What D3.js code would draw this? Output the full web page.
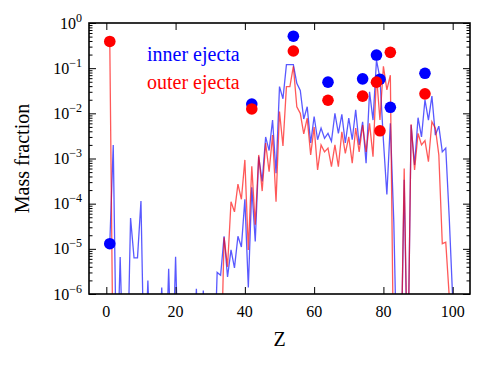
<!DOCTYPE html>
<html>
<head>
<meta charset="utf-8">
<script src="https://cdn.jsdelivr.net/npm/d3@7"></script>
<style>
  body { margin: 0; background: #fff; }
  text { font-family: "Liberation Serif", "DejaVu Serif", serif; }
</style>
</head>
<body>
<div id="chart-area"></div>
<script>
// atomic number of each line point
var zValues = [1,2,3,4,5,6,7,8,9,10,11,12,13,14,15,16,17,18,19,20,
  21,22,23,24,25,26,27,28,29,30,31,32,33,34,35,36,37,38,39,40,
  41,42,43,44,45,46,47,48,49,50,51,52,53,54,55,56,57,58,59,60,
  61,62,63,64,65,66,67,68,69,70,71,72,73,74,75,76,77,78,79,80,
  81,82,83,84,85,86,87,88,89,90,91,92,93,94,95,96,97,98,99,100];

// mass fractions (1e-8 = below the axis)
var innerLine = [1.3e-5,2e-3,1e-8,6.6e-6,1e-8,1e-8,4.8e-5,6.3e-6,6.3e-6,1.15e-4,
  1e-8,2e-6,1e-8,1e-8,1e-8,1.4e-6,1e-8,3.6e-6,1e-8,6.7e-6,
  1e-8,1e-8,1e-8,1e-8,1e-8,1.3e-6,1e-8,1.2e-6,1e-8,1e-8,
  1e-8,3.0e-6,2.6e-6,1.9e-5,2.4e-6,9.5e-6,3.8e-6,1.9e-5,1.1e-5,1.25e-4,
  1.4e-6,2.3e-4,1.45e-5,1.1e-3,3.1e-4,3e-3,1.5e-3,7.1e-3,4.7e-4,0.039,
  0.021,0.12,0.12,0.12,0.046,0.032,7.5e-3,0.014,2.2e-3,8.5e-3,
  2.6e-3,4.7e-3,2.8e-3,3.6e-3,2.4e-3,0.01,3.6e-3,9.5e-3,2.2e-3,7.8e-3,
  2.6e-3,0.012,2.0e-3,6.5e-3,7.9e-4,0.030,7.1e-3,0.15,0.06,2.5e-3,
  1.6e-4,6e-3,4e-5,1e-8,1e-8,3.4e-4,1e-8,5.5e-3,7.2e-4,8e-3,
  3e-3,0.02,7.1e-3,0.024,3.3e-3,5.2e-3,1.4e-3,1.7e-3,5e-5,8e-7];

var outerLine = [0.39,1e-8,1e-8,1e-8,1e-8,1e-8,1e-8,1e-8,1e-8,1e-8,
  1e-8,1e-8,1e-8,1e-8,1e-8,1e-8,1e-8,1e-8,1e-8,1e-8,
  1e-8,1e-8,1e-8,1e-8,1e-8,1e-8,1e-8,1e-8,1e-8,1e-8,
  1e-8,1e-8,1e-8,1.8e-5,4e-6,1.1e-4,6.6e-5,2.7e-4,1.25e-4,9.3e-4,
  9.4e-6,6.7e-4,3.4e-5,1.2e-3,1.9e-4,2.2e-3,5.1e-4,3.3e-3,1.1e-4,0.011,
  1.9e-3,0.039,0.039,0.11,0.014,0.01,3.5e-3,7.8e-3,1.2e-3,5e-3,
  5.6e-4,2e-3,1.4e-3,1.7e-3,6.6e-4,2e-3,6.6e-4,3.9e-3,1.3e-3,3e-3,
  7.9e-4,4.7e-3,1.4e-3,5.5e-3,1.4e-3,6e-3,1.1e-3,0.07,7.1e-3,0.11,
  0.033,0.07,1e-8,1e-8,1e-8,6e-4,1e-8,5.7e-3,5.6e-4,3.6e-3,
  2e-3,2.5e-3,8.5e-4,6.5e-3,4.7e-3,1.2e-3,1.3e-5,1.4e-5,9e-7,1e-8];

// single points
var dotZ = [1, 42, 54, 64, 74, 78, 79, 82, 92];
var innerDots = [1.3e-5, 0.016, 0.51, 0.049, 0.058, 0.195, 0.057, 0.0136, 0.077];
var outerDots = [0.39, 0.0125, 0.24, 0.0195, 0.024, 0.049, 0.0041, 0.224, 0.027];

var xTicks = [0, 20, 40, 60, 80, 100];
var yTickExp = [0, -1, -2, -3, -4, -5, -6];

var svg_width = 484, svg_height = 365;
var plotL = 89, plotT = 23, plotR = 470, plotB = 294;

var svg = d3.select("#chart-area").append("svg")
  .attr("width", svg_width)
  .attr("height", svg_height);

var x = d3.scaleLinear().domain([-5, 105]).range([plotL, plotR]);
var y = d3.scaleLog().domain([1e-6, 1]).range([plotB, plotT]);

svg.append("clipPath").attr("id", "plot-clip")
  .append("rect")
  .attr("x", plotL).attr("y", plotT)
  .attr("width", plotR - plotL).attr("height", plotB - plotT);

var line = d3.line()
  .x((d) => x(d[0]))
  .y((d) => y(d[1]));

var plot = svg.append("g").attr("clip-path", "url(#plot-clip)");

plot.append("path")
  .datum(zValues.map((z, i) => [z, innerLine[i]]))
  .attr("d", line)
  .attr("fill", "none")
  .attr("stroke", "blue")
  .attr("stroke-opacity", 0.65)
  .attr("stroke-width", 1.3);

plot.append("path")
  .datum(zValues.map((z, i) => [z, outerLine[i]]))
  .attr("d", line)
  .attr("fill", "none")
  .attr("stroke", "red")
  .attr("stroke-opacity", 0.65)
  .attr("stroke-width", 1.3);

plot.selectAll("circle.inner")
  .data(dotZ.map((z, i) => [z, innerDots[i]]))
  .enter().append("circle")
  .attr("class", "inner")
  .attr("cx", (d) => x(d[0]))
  .attr("cy", (d) => y(d[1]))
  .attr("r", 5.8)
  .attr("fill", "blue");

plot.selectAll("circle.outer")
  .data(dotZ.map((z, i) => [z, outerDots[i]]))
  .enter().append("circle")
  .attr("class", "outer")
  .attr("cx", (d) => x(d[0]))
  .attr("cy", (d) => y(d[1]))
  .attr("r", 5.8)
  .attr("fill", "red");

// ticks, all pointing inward
var majorY = yTickExp.map((e) => Math.pow(10, e));
var minorY = [];
yTickExp.slice(1).forEach((e) => {
  [2, 3, 4, 5, 6, 7, 8, 9].forEach((m) => minorY.push(m * Math.pow(10, e)));
});

function drawAxis(axis, tx, ty) {
  var g = svg.append("g").attr("transform", "translate(" + tx + "," + ty + ")").call(axis);
  g.select(".domain").remove();
  g.selectAll("line").attr("stroke", "black").attr("stroke-width", 1);
  return g;
}

drawAxis(d3.axisBottom(x).tickValues(xTicks).tickSizeInner(-7).tickFormat(""), 0, plotB);
drawAxis(d3.axisTop(x).tickValues(xTicks).tickSizeInner(-7).tickFormat(""), 0, plotT);
drawAxis(d3.axisLeft(y).tickValues(majorY).tickSizeInner(-7).tickFormat(""), plotL, 0);
drawAxis(d3.axisRight(y).tickValues(majorY).tickSizeInner(-7).tickFormat(""), plotR, 0);
drawAxis(d3.axisLeft(y).tickValues(minorY).tickSizeInner(-3.5).tickFormat(""), plotL, 0);
drawAxis(d3.axisRight(y).tickValues(minorY).tickSizeInner(-3.5).tickFormat(""), plotR, 0);

svg.append("rect")
  .attr("x", plotL).attr("y", plotT)
  .attr("width", plotR - plotL).attr("height", plotB - plotT)
  .attr("fill", "none")
  .attr("stroke", "black")
  .attr("stroke-width", 1.6);

// tick labels
svg.selectAll("text.xlab")
  .data(xTicks)
  .enter().append("text")
  .attr("class", "xlab")
  .attr("x", (d) => x(d))
  .attr("y", 317)
  .attr("text-anchor", "middle")
  .attr("font-size", 16)
  .text((d) => d);

var ylab = svg.selectAll("text.ylab")
  .data(yTickExp)
  .enter().append("text")
  .attr("class", "ylab")
  .attr("x", 82)
  .attr("y", (d) => y(Math.pow(10, d)) + 5.5)
  .attr("text-anchor", "end")
  .attr("font-size", 16);
ylab.append("tspan").text("10");
ylab.append("tspan")
  .attr("dy", -7)
  .attr("font-size", 12)
  .text((d) => (d < 0 ? "\u2212" + (-d) : "" + d));

// axis titles
svg.append("text")
  .attr("x", (plotL + plotR) / 2)
  .attr("y", 346)
  .attr("text-anchor", "middle")
  .attr("font-size", 20)
  .text("Z");

svg.append("text")
  .attr("transform", "translate(29," + ((plotT + plotB) / 2) + ") rotate(-90)")
  .attr("text-anchor", "middle")
  .attr("font-size", 20)
  .text("Mass fraction");

// legend text
svg.append("text")
  .attr("x", 147).attr("y", 61)
  .attr("font-size", 20)
  .attr("fill", "blue")
  .text("inner ejecta");

svg.append("text")
  .attr("x", 147).attr("y", 89)
  .attr("font-size", 20)
  .attr("fill", "red")
  .text("outer ejecta");
</script>
</body>
</html>
